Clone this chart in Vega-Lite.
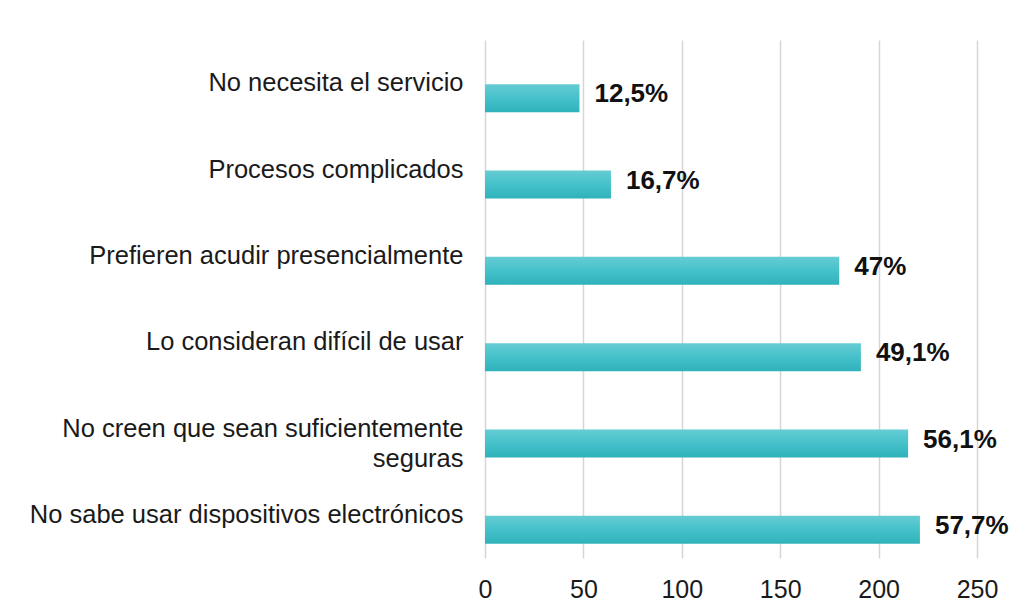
{
  "$schema": "https://vega.github.io/schema/vega-lite/v6.json",
  "autosize": {"type": "none"},
  "padding": {"left": 485, "top": 40, "right": 43, "bottom": 58},
  "width": 492,
  "height": 518,
  "background": "white",
  "config": {"view": {"stroke": null}, "font": "Liberation Sans"},
  "data": {
    "values": [
      {"motivo": "No necesita el servicio", "n": 48, "pct": "12,5%"},
      {"motivo": "Procesos complicados", "n": 64, "pct": "16,7%"},
      {"motivo": "Prefieren acudir presencialmente", "n": 180, "pct": "47%"},
      {"motivo": "Lo consideran difícil de usar", "n": 191, "pct": "49,1%"},
      {"motivo": "No creen que sean suficientemente|seguras", "n": 215, "pct": "56,1%"},
      {"motivo": "No sabe usar dispositivos electrónicos", "n": 221, "pct": "57,7%"}
    ]
  },
  "encoding": {
    "y": {
      "field": "motivo", "type": "nominal", "sort": null,
      "scale": {"paddingInner": 0, "paddingOuter": 0},
      "axis": {
        "title": null, "domain": false, "ticks": false, "grid": false,
        "labelFontSize": 25.5, "labelColor": "#1a1a1a", "labelPadding": 22,
        "labelLimit": 600, "labelLineHeight": 30,
        "labelExpr": "split(datum.label, '|')"
      }
    },
    "x": {
      "field": "n", "type": "quantitative",
      "scale": {"domain": [0, 250]},
      "axis": {
        "title": null, "domain": false, "ticks": false,
        "values": [0, 50, 100, 150, 200, 250],
        "grid": true, "gridColor": "#d6d6d6", "gridWidth": 1.5,
        "labelFontSize": 25, "labelColor": "#1a1a1a", "labelPadding": 19,
        "labelFlush": false
      }
    }
  },
  "layer": [
    {
      "mark": {
        "type": "bar", "height": 28, "yOffset": 15,
        "color": {
          "gradient": "linear", "x1": 0, "y1": 0, "x2": 0, "y2": 1,
          "stops": [
            {"offset": 0, "color": "#66ccd3"},
            {"offset": 0.5, "color": "#45c1ca"},
            {"offset": 1, "color": "#2fb2bb"}
          ]
        }
      }
    },
    {
      "mark": {
        "type": "text", "align": "left", "baseline": "middle",
        "dx": 15, "yOffset": 11, "fontSize": 26, "fontWeight": "bold", "color": "#111111"
      },
      "encoding": {"text": {"field": "pct"}}
    }
  ]
}
